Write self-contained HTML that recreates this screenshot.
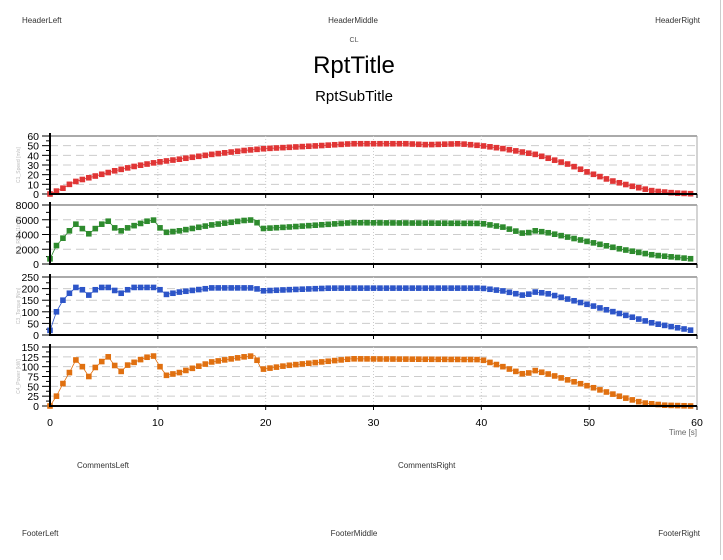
<!DOCTYPE html>
<html><head><meta charset="utf-8"><style>
body{margin:0;background:#fff;width:723px;height:555px;overflow:hidden;font-family:"Liberation Sans",sans-serif}
</style></head><body>
<svg id="s" width="723" height="555" xmlns="http://www.w3.org/2000/svg" font-family="Liberation Sans, sans-serif">
<line x1="720.5" y1="0" x2="720.5" y2="555" stroke="#ccc"/>
<text x="22" y="23" font-size="8" fill="#333">HeaderLeft</text>
<text x="353" y="23" font-size="8" fill="#333" text-anchor="middle">HeaderMiddle</text>
<text x="700" y="23" font-size="8" fill="#333" text-anchor="end">HeaderRight</text>
<text x="354" y="42" font-size="7" fill="#555" text-anchor="middle">CL</text>
<text x="354" y="73" font-size="24" fill="#000" text-anchor="middle">RptTitle</text>
<text x="354" y="101" font-size="15" fill="#000" text-anchor="middle">RptSubTitle</text>
<text x="697" y="435" font-size="8" fill="#666" text-anchor="end">Time [s]</text>
<text x="77" y="468" font-size="8" fill="#333">CommentsLeft</text>
<text x="398" y="468" font-size="8" fill="#333">CommentsRight</text>
<text x="22" y="536" font-size="8" fill="#333">FooterLeft</text>
<text x="354" y="536" font-size="8" fill="#333" text-anchor="middle">FooterMiddle</text>
<text x="700" y="536" font-size="8" fill="#333" text-anchor="end">FooterRight</text>
<g id="g"></g>
</svg>
<script>
var NS="http://www.w3.org/2000/svg",g=document.getElementById('g');
function el(t,a,txt){var e=document.createElementNS(NS,t);for(var k in a)e.setAttribute(k,a[k]);if(txt!=null)e.textContent=txt;g.appendChild(e);return e;}
var X0=50,X1=697;function xs(t){return X0+(X1-X0)*t/60;}
function interp(kp,t){for(var i=0;i<kp.length-1;i++){if(t<=kp[i+1][0]){var a=kp[i],b=kp[i+1];return a[1]+(b[1]-a[1])*(t-a[0])/(b[0]-a[0]);}}return kp[kp.length-1][1];}
var panels=[
{top:136,bot:194,max:60,step:10,col:'#e03535',lab:'C1_Speed [m/s]',
kp:[[0,0],[0.6,3],[1.2,6],[1.8,10],[2.4,13],[3,15],[4,18],[6,24],[8,29],[10,33],[12,36],[15,41],[18,45],[20,47],[25,50],[28,52],[33,52],[35,51],[38,52],[40,50],[42,47],[45,41],[48,31],[50,22],[52,14],[54,8],[56,3],[58,1],[60,0]]},
{top:205,bot:264,max:8000,step:2000,col:'#2e8b2e',lab:'C2_RPM [1/min]',
kp:[[0,700],[0.6,2500],[1.2,3500],[1.8,4500],[2.4,5400],[3,4800],[3.6,4100],[4.2,4800],[4.8,5400],[5.4,5800],[6,4900],[6.6,4500],[7.2,4900],[7.8,5200],[8.4,5500],[9,5800],[9.6,5950],[10.2,4900],[10.8,4300],[12,4500],[15,5300],[18,5900],[19,6000],[19.6,4800],[22,5000],[28,5600],[40,5500],[42,5000],[44,4100],[45,4500],[46,4300],[50,3000],[53,2000],[56,1200],[59.5,700]]},
{top:277,bot:335,max:250,step:50,col:'#2d55c8',lab:'C3_Torque [Nm]',
kp:[[0,20],[0.6,100],[1.2,150],[1.8,180],[2.4,205],[3,195],[3.6,172],[4.2,195],[4.8,205],[5.4,205],[6,192],[6.6,180],[7.2,195],[7.8,205],[9.6,205],[10.2,195],[10.8,175],[12,185],[15,203],[19,203],[19.6,190],[22,195],[26,202],[40,202],[42,190],[44,170],[45,185],[46,180],[50,130],[53,90],[56,50],[59.5,20]]},
{top:347,bot:406,max:150,step:25,col:'#e07010',lab:'C4_Power [kW]',
kp:[[0,0],[0.6,25],[1.2,57],[1.8,85],[2.4,117],[3,100],[3.6,75],[4.2,98],[4.8,113],[5.4,125],[6,103],[6.6,88],[7.2,104],[7.8,111],[8.4,118],[9,124],[9.6,127],[10.2,100],[10.8,78],[12,85],[15,112],[18,125],[19,128],[19.6,93],[22,103],[28,120],[40,118],[42,100],[44,80],[45,90],[46,83],[50,50],[53,23],[55,8],[57,2],[59.5,0]]}
];
panels.forEach(function(p){
 var ys=function(v){return p.bot-(p.bot-p.top)*v/p.max;};
 el('line',{x1:X0,y1:p.top,x2:X1,y2:p.top,stroke:'#aaa','stroke-width':2});
 el('line',{x1:X1,y1:p.top,x2:X1,y2:p.bot,stroke:'#aaa','stroke-width':1});
 for(var v=p.step;v<p.max;v+=p.step){el('line',{x1:X0,y1:ys(v),x2:X1,y2:ys(v),stroke:'#ccc','stroke-dasharray':'8,5','stroke-width':1});}
 for(var t=10;t<60;t+=10)el('line',{x1:xs(t),y1:p.top,x2:xs(t),y2:p.bot,stroke:'#ccc','stroke-dasharray':'1,2'});
 for(var v=0;v<=p.max+0.01;v+=p.step){el('text',{x:X0-11,y:ys(v)+4,'font-size':10.5,'text-anchor':'end',fill:'#000'},String(v));el('line',{x1:X0-8,y1:ys(v),x2:X0,y2:ys(v),stroke:'#000'});}
 for(var v=p.step/2;v<p.max;v+=p.step)el('line',{x1:X0-4,y1:ys(v),x2:X0,y2:ys(v),stroke:'#000'});
 var cx=20,cy=(p.top+p.bot)/2;el('text',{x:cx,y:cy,'font-size':5,fill:'#bbb','text-anchor':'middle',transform:'rotate(-90 '+cx+' '+cy+')'},p.lab);
 var d='';for(var t=0;t<=59.5;t+=0.1){d+=(t?'L':'M')+xs(t).toFixed(1)+','+ys(interp(p.kp,t)).toFixed(1);}
 el('path',{d:d,fill:'none',stroke:p.col,'stroke-width':0.8});
 for(var i=0;i<=99;i++){var t=i*0.6;el('rect',{x:xs(t)-2.8,y:ys(interp(p.kp,t))-2.8,width:5.6,height:5.6,fill:p.col});}
 el('line',{x1:X0,y1:p.top-3,x2:X0,y2:p.bot+1,stroke:'#000','stroke-width':2});
 el('line',{x1:X0-1,y1:p.bot,x2:X1,y2:p.bot,stroke:'#000','stroke-width':2});
 for(var t=10;t<=60;t+=10)el('line',{x1:xs(t),y1:p.bot,x2:xs(t),y2:p.bot+4,stroke:'#000'});
});
for(var t=0;t<=60;t+=10)el('text',{x:xs(t),y:426,'font-size':10.5,'text-anchor':'middle',fill:'#000'},String(t));
</script>
</body></html>
